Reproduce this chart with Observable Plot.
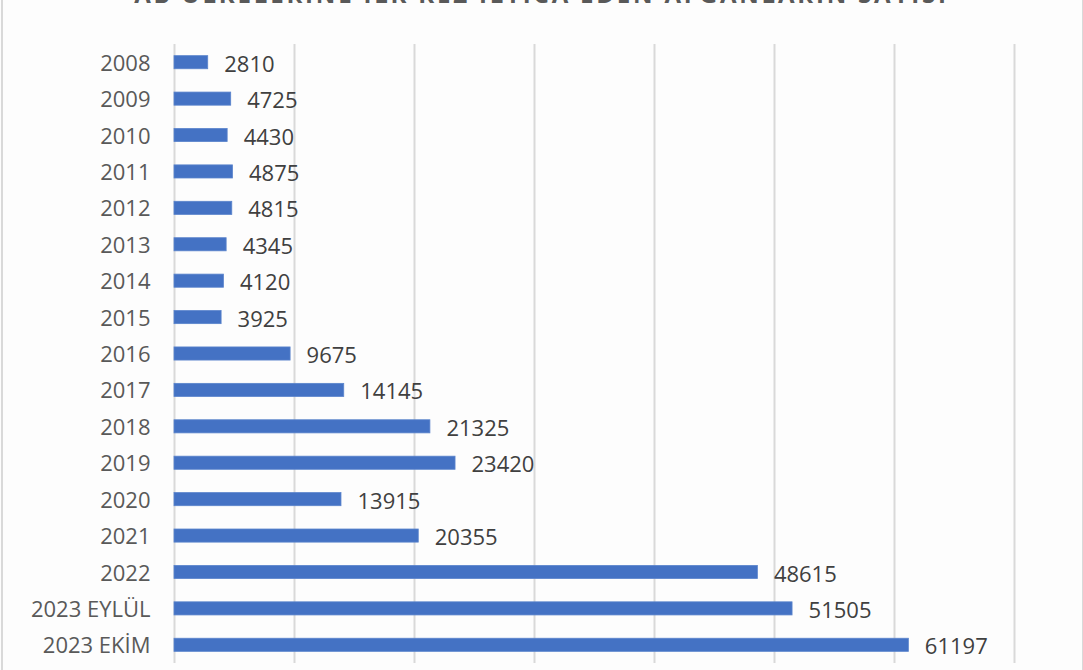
<!DOCTYPE html>
<html>
<head>
<meta charset="utf-8">
<script src="https://cdn.jsdelivr.net/npm/d3@7"></script>
<script src="https://cdn.jsdelivr.net/npm/@observablehq/plot@0.6"></script>
<style>
  html, body { margin: 0; padding: 0; background: #fff; overflow: hidden; }
  #wrap { position: relative; width: 1083px; height: 670px; background: #fdfdfd; overflow: hidden; }
  #frame { position: absolute; left: 1px; top: -2px; width: 1079px; height: 680px; border-left: 2px solid #d9d9d9; border-right: 2px solid #d9d9d9; pointer-events: none; }
  #title { position: absolute; top: -23px; left: 0; width: 1083px; text-align: center; font-family: "Open Sans", sans-serif; font-weight: bold; font-size: 24px; color: #595959; letter-spacing: 2.8px; white-space: nowrap; }
  #chart { position: absolute; left: 0; top: 0; }
</style>
</head>
<body>
<div id="wrap">
  <div id="title">AB ÜLKELERİNE İLK KEZ İLTİCA EDEN AFGANLARIN SAYISI</div>
  <div id="chart"></div>
  <div id="frame"></div>
</div>
<script>
const categories = ["2008","2009","2010","2011","2012","2013","2014","2015","2016","2017","2018","2019","2020","2021","2022","2023 EYLÜL","2023 EKİM"];
const values = [2810,4725,4430,4875,4815,4345,4120,3925,9675,14145,21325,23420,13915,20355,48615,51505,61197];
const xTicks = [0,10000,20000,30000,40000,50000,60000,70000];

const data = categories.map((c, i) => ({cat: c, value: values[i]}));

const chart = Plot.plot({
  width: 1083,
  height: 670,
  marginLeft: 174,
  marginRight: 69,
  marginTop: 44,
  marginBottom: 7,
  style: {background: "transparent", fontFamily: "'Open Sans', sans-serif"},
  x: {domain: [0, 70000], axis: null},
  y: {domain: categories, paddingInner: 0.64, paddingOuter: 0.32, round: false, axis: null},
  marks: [
    Plot.ruleX(xTicks, {stroke: "#d9d9d9", strokeWidth: 2}),
    Plot.barX(data, {x: "value", y: "cat", fill: "#4472C4", stroke: "#5b84cc", strokeWidth: 0.8}),
    Plot.text(data, {x: "value", y: "cat", text: d => String(d.value), textAnchor: "start", dx: 16, dy: 2, fontSize: 22, fill: "#404040", style: "letter-spacing:1.5px"}),
    Plot.axisY({tickSize: 0, tickPadding: 24, fontSize: 22, color: "#595959", label: null, dy: 1, style: "letter-spacing:0.7px"})
  ]
});
document.getElementById("chart").appendChild(chart);
</script>
</body>
</html>
